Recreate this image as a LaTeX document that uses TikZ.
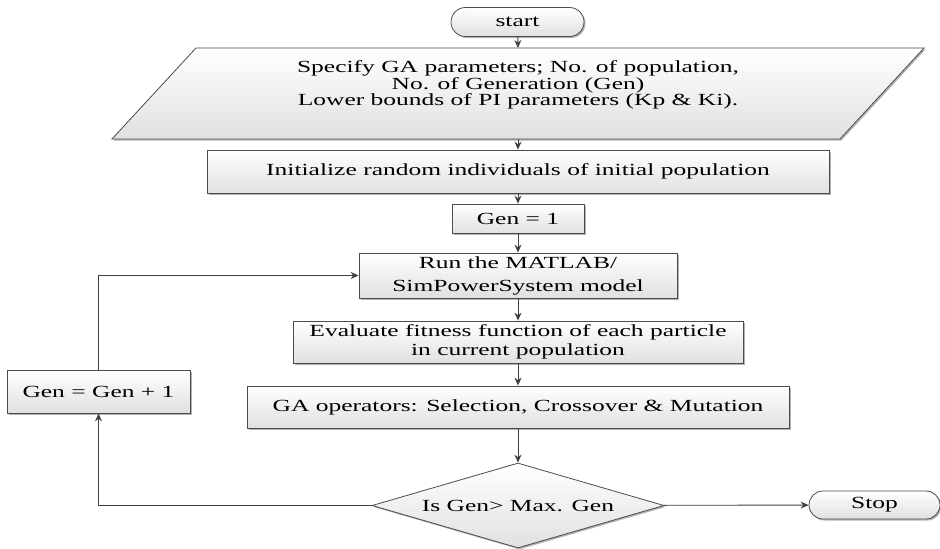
\documentclass[tikz,border=0pt]{standalone}
\usepackage{fontspec}
\setmainfont{Liberation Serif}[FakeStretch=1.5]
\usetikzlibrary{shapes.geometric,shapes.misc,shadows,arrows.meta,calc}
\begin{document}
\begin{tikzpicture}[x=1pt,y=-1pt,
  line/.style={draw=black!75, line width=0.9pt},
  arr/.style={line, -{Stealth[length=8pt,width=7pt]}},
  boxfill/.style={draw=black!70, line width=0.8pt, top color=white, bottom color=black!12,
     drop shadow={shadow xshift=1.5pt, shadow yshift=-1.5pt, fill=black, opacity=0.3}},
  txt/.style={font=\fontsize{17}{19}\selectfont, align=center, inner sep=0pt},
  procbox/.style={boxfill, txt, rectangle},
  term/.style={boxfill, txt, rounded rectangle},
  decision/.style={boxfill, txt, diamond, aspect=3.4},
]
\useasboundingbox (0,0) rectangle (940,549);

\node[term, minimum width=133pt, minimum height=29pt] (start) at (517.5,22) {start};

% parallelogram (input)
\coordinate (specc) at (518,85);
\path[boxfill] ($(specc)+(-322,-37)$) -- ($(specc)+(406,-37)$)
   -- ($(specc)+(322,54)$) -- ($(specc)+(-406,54)$) -- cycle;
\node[txt, font=\fontsize{17}{15.5}\selectfont] (spec) at (specc) {Specify GA parameters; No. of population,\\No. of Generation (Gen)\\Lower bounds of PI parameters (Kp \& Ki).};
\coordinate (spectop) at ($(specc)+(0,-37)$);
\coordinate (specbot) at ($(specc)+(0,54)$);

\node[procbox, minimum width=622pt, minimum height=43pt] (init) at (518,171.5) {Initialize random individuals of initial population};
\node[procbox, minimum width=132pt, minimum height=29pt] (gen1) at (518,218.5) {Gen = 1};
\node[procbox, minimum width=318pt, minimum height=45pt, font=\fontsize{17}{23}\selectfont] (run) at (518,275.5) {Run the MATLAB/\\SimPowerSystem model};
\node[procbox, minimum width=450pt, minimum height=42pt, font=\fontsize{17}{18.5}\selectfont] (eval) at (518,342) {Evaluate fitness function of each particle\\in current population};
\node[procbox, minimum width=542pt, minimum height=42pt] (gaop) at (518,407) {GA operators: Selection, Crossover \& Mutation};
\node[decision, minimum width=292pt, minimum height=85pt] (dec) at (518,505.5) {Is Gen> Max. Gen};
\node[term, minimum width=131pt, minimum height=28pt] (stop) at (874.5,505) {Stop};
\node[procbox, minimum width=183pt, minimum height=43pt] (inc) at (98.5,391.5) {Gen = Gen + 1};

\draw[arr] (start) -- (spectop);
\draw[arr] (specbot) -- (init);
\draw[arr] (init) -- (gen1);
\draw[arr] (gen1) -- (run);
\draw[arr] (run) -- (eval);
\draw[arr] (eval) -- (gaop);
\draw[arr] (gaop) -- (dec);
\draw[arr] (dec) -- (stop);
\draw[arr] (dec.west) -| (inc.south);
\draw[arr] (inc.north) |- (run.west);
\end{tikzpicture}
\end{document}
